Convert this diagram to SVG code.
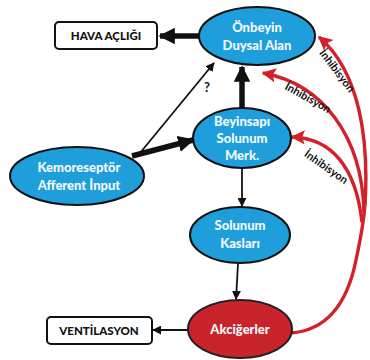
<svg xmlns="http://www.w3.org/2000/svg" width="370" height="360" viewBox="0 0 370 360">
  <style>
    .node { fill: #1e9fdc; stroke: #111; stroke-width: 2; }
    .red { fill: #c9232b; stroke: #222; stroke-width: 2; }
    .box { fill: #fff; stroke: #111; stroke-width: 2; }
    .lbl { font-family: Lato, "Liberation Sans", sans-serif; font-weight: 900; font-size: 13px; fill: #f2f8fc; text-anchor: middle; }
    .blbl { font-family: Lato, "Liberation Sans", sans-serif; font-weight: 900; font-size: 11.5px; fill: #111; text-anchor: middle; }
    .inh { font-family: Lato, "Liberation Sans", sans-serif; font-weight: bold; font-size: 11px; fill: #111; text-anchor: middle; }
    .thin { stroke: #111; stroke-width: 1.8; fill: none; }
    .thick { stroke: #111; stroke-width: 5.5; fill: none; }
    .inhib { stroke: #d42028; stroke-width: 3.4; fill: none; }
  </style>
  <defs>
    <marker id="ah" viewBox="0 0 10 10" refX="9" refY="5" markerWidth="5" markerHeight="5" markerUnits="strokeWidth" orient="auto">
      <path d="M0,0 L10,5 L0,10 z" fill="#111"/>
    </marker>
    <marker id="ahBig" viewBox="0 0 10 10" refX="9" refY="5" markerWidth="3" markerHeight="3" markerUnits="strokeWidth" orient="auto">
      <path d="M0,0 L10,5 L0,10 z" fill="#111"/>
    </marker>
    <marker id="ahRed" viewBox="0 0 10 10" refX="9" refY="5" markerWidth="4.2" markerHeight="4.2" markerUnits="strokeWidth" orient="auto">
      <path d="M0,0 L10,5 L0,10 L2,5 z" fill="#d42028"/>
    </marker>
  </defs>

  <!-- connectors -->
  <g id="connectors">
    <line class="thick" x1="199" y1="36" x2="160" y2="36" marker-end="url(#ahBig)"/>
    <line class="thick" x1="242" y1="108" x2="242" y2="67" marker-end="url(#ahBig)"/>
    <line class="thick" x1="132" y1="156" x2="193" y2="140" marker-end="url(#ahBig)"/>
    <line class="thin" x1="140" y1="153" x2="214" y2="63" marker-end="url(#ah)"/>
    <text x="207" y="92" font-family="Lato, 'Liberation Sans', sans-serif" font-weight="bold" font-size="13" fill="#111" text-anchor="middle">?</text>
    <line class="thin" x1="242" y1="168" x2="242" y2="206" marker-end="url(#ah)"/>
    <line class="thin" x1="238" y1="264" x2="236" y2="299" marker-end="url(#ah)"/>
    <line class="thin" x1="188" y1="330" x2="153" y2="330" marker-end="url(#ah)"/>

    <!-- inhibition feedback from the lungs -->
    <path class="inhib" d="M291,333 C330,330 348,300 356,260 C362,232 365,215 365,200"/>
    <path class="inhib" d="M365,205 C369,140 360,72 319,37" marker-end="url(#ahRed)"/>
    <path class="inhib" d="M364,212 C362,135 322,84 263,73" marker-end="url(#ahRed)"/>
    <path class="inhib" d="M362,222 C356,168 332,138 292,137" marker-end="url(#ahRed)"/>
    <text class="inh" transform="translate(334,73) rotate(53)">İnhibisyon</text>
    <text class="inh" transform="translate(306,101) rotate(29)">İnhibisyon</text>
    <text class="inh" transform="translate(324,170) rotate(35)">İnhibisyon</text>
  </g>

  <g id="hava-acligi">
    <rect class="box" x="55" y="22" width="102" height="27" rx="4"/>
    <text class="blbl" x="106" y="40">HAVA AÇLIĞI</text>
  </g>

  <g id="onbeyin">
    <ellipse class="node" cx="257" cy="36" rx="58" ry="29"/>
    <text class="lbl" x="257" y="32">Önbeyin</text>
    <text class="lbl" x="257" y="50">Duysal Alan</text>
  </g>

  <g id="beyinsapi">
    <ellipse class="node" cx="242" cy="138" rx="49" ry="30"/>
    <text class="lbl" x="242" y="126">Beyinsapı</text>
    <text class="lbl" x="242" y="143">Solunum</text>
    <text class="lbl" x="242" y="160">Merk.</text>
  </g>

  <g id="kemoreseptor">
    <ellipse class="node" cx="77" cy="176" rx="67" ry="29"/>
    <text class="lbl" x="79" y="172">Kemoreseptör</text>
    <text class="lbl" x="79" y="190">Afferent İnput</text>
  </g>

  <g id="solunum-kaslari">
    <ellipse class="node" cx="240" cy="235" rx="50" ry="28"/>
    <text class="lbl" x="240" y="230">Solunum</text>
    <text class="lbl" x="240" y="248">Kasları</text>
  </g>

  <g id="akcigerler">
    <ellipse class="red" cx="240" cy="329" rx="52" ry="29"/>
    <text class="lbl" x="240" y="334">Akciğerler</text>
  </g>

  <g id="ventilasyon">
    <rect class="box" x="47" y="317" width="105" height="27" rx="4"/>
    <text class="blbl" x="99" y="335">VENTİLASYON</text>
  </g>
</svg>
